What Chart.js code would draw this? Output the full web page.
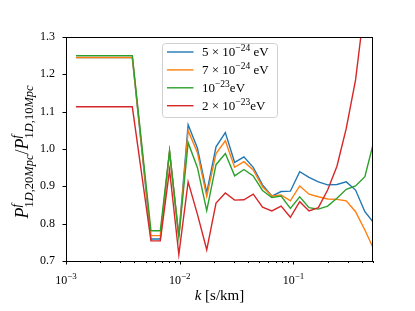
<!DOCTYPE html>
<html>
<head>
<meta charset="utf-8">
<script src="https://cdn.jsdelivr.net/npm/chart.js@4"></script>
<style>
  body { margin: 0; background: #fff; }
  canvas { display: block; }
</style>
</head>
<body>
<canvas id="ratio-chart" width="415" height="311"></canvas>
<script>
// k grid [s/km]
var kValues = [0.001225, 0.003828, 0.005585, 0.006745, 0.008135, 0.009817, 0.01185, 0.01431,
  0.01727, 0.02084, 0.02516, 0.03038, 0.03666, 0.04425, 0.05342, 0.06449, 0.07785, 0.0939,
  0.1134, 0.1370, 0.1654, 0.1996, 0.2410, 0.2910, 0.3513, 0.4242, 0.512];

// ratio P_1D(20Mpc) / P_1D(10Mpc) for each mass
var ratio5e24 = [1.245, 1.245, 0.759, 0.759, 0.993, 0.768, 1.065, 1.002, 0.883, 1.006, 1.044, 0.964,
  0.979, 0.951, 0.904, 0.874, 0.886, 0.887, 0.939, 0.924, 0.912, 0.904, 0.905, 0.912, 0.890, 0.832, 0.801];
var ratio7e24 = [1.245, 1.245, 0.768, 0.768, 0.993, 0.765, 1.049, 0.990, 0.873, 0.988, 1.022, 0.951,
  0.966, 0.944, 0.899, 0.874, 0.877, 0.861, 0.901, 0.879, 0.872, 0.866, 0.865, 0.861, 0.832, 0.783, 0.729];
var ratio1e23 = [1.250, 1.250, 0.781, 0.781, 0.995, 0.763, 1.017, 0.950, 0.835, 0.958, 0.988, 0.928,
  0.945, 0.928, 0.889, 0.870, 0.874, 0.841, 0.872, 0.843, 0.839, 0.847, 0.868, 0.892, 0.901, 0.926, 1.024];
var ratio2e23 = [1.113, 1.113, 0.754, 0.754, 0.944, 0.717, 0.912, 0.825, 0.730, 0.855, 0.882, 0.863,
  0.864, 0.879, 0.844, 0.834, 0.847, 0.817, 0.859, 0.834, 0.843, 0.890, 0.954, 1.055, 1.185, 1.390, 1.650];

var yTicks = [0.7, 0.8, 0.9, 1.0, 1.1, 1.2, 1.3];
var xMajorTicks = [0.001, 0.01, 0.1];

var colors = ['#1f77b4', '#ff7f0e', '#2ca02c', '#d62728'];
var FONT = '"Liberation Serif", "DejaVu Serif", serif';

// legend labels, pieces drawn as [base, superscript, tail]
var legendLabels = [
  ['5 × 10', '−24', ' eV'],
  ['7 × 10', '−24', ' eV'],
  ['10', '−23', 'eV'],
  ['2 × 10', '−23', 'eV']
];

function pts(ys) {
  return kValues.map(function (k, i) { return { x: k, y: ys[i] }; });
}

// draw a row of text pieces: {t, s (size), i (italic), dy, na (no advance)}
function rich(ctx, segs, x, y, align) {
  var w = 0;
  segs.forEach(function (s) {
    ctx.font = (s.i ? 'italic ' : '') + s.s + 'px ' + FONT;
    s.w = ctx.measureText(s.t).width;
    if (!s.na) w += s.w;
  });
  var cx = align === 'center' ? x - w / 2 : x;
  segs.forEach(function (s) {
    ctx.font = (s.i ? 'italic ' : '') + s.s + 'px ' + FONT;
    ctx.fillText(s.t, cx, y + (s.dy || 0));
    if (!s.na) cx += s.w;
  });
}

var texPlugin = {
  id: 'tex',
  afterDraw: function (chart) {
    var ctx = chart.ctx, a = chart.chartArea, xs = chart.scales.x, ys = chart.scales.y;
    ctx.save();
    ctx.fillStyle = '#000';
    ctx.strokeStyle = '#000';
    ctx.textBaseline = 'alphabetic';
    ctx.textAlign = 'left';

    // frame
    ctx.lineWidth = 1;
    ctx.strokeRect(a.left + 0.5, a.top + 0.5, a.right - a.left - 1, a.bottom - a.top);

    // x ticks (major + minor)
    ctx.beginPath();
    xs.ticks.forEach(function (t) {
      var px = Math.round(xs.getPixelForValue(t.value)) + 0.5;
      if (px < a.left - 1 || px > a.right + 1) return;
      var major = xMajorTicks.some(function (m) { return Math.abs(m - t.value) < m * 1e-6; });
      ctx.moveTo(px, a.bottom);
      ctx.lineTo(px, a.bottom + (major ? 3.5 : 2));
    });
    // y ticks
    yTicks.forEach(function (v) {
      var py = Math.round(ys.getPixelForValue(v)) + 0.5;
      ctx.moveTo(a.left, py);
      ctx.lineTo(a.left - 3.5, py);
    });
    ctx.stroke();

    // x tick labels 10^n
    xMajorTicks.forEach(function (m) {
      var px = xs.getPixelForValue(m);
      var e = Math.round(Math.log10(m));
      rich(ctx, [{ t: '10', s: 12 }, { t: '−' + Math.abs(e), s: 9, dy: -5 }], px, 284, 'center');
    });

    // x axis title
    rich(ctx, [{ t: 'k', s: 15, i: true }, { t: ' [s/km]', s: 15 }], (a.left + a.right) / 2, 300, 'center');

    // y axis title (rotated)
    ctx.save();
    ctx.translate(28, (a.top + a.bottom) / 2 + 3);
    ctx.rotate(-Math.PI / 2);
    var sub = 4.5, sup = -8, big = 18, sm = 12.5;
    rich(ctx, [
      { t: 'P', s: big, i: true }, { t: 'f', s: sm, i: true, dy: sup, na: true },
      { t: '1', s: sm, dy: sub }, { t: 'D', s: sm, i: true, dy: sub }, { t: ',', s: sm, dy: sub },
      { t: '20', s: sm, dy: sub }, { t: 'Mpc', s: sm, i: true, dy: sub },
      { t: '/', s: big },
      { t: 'P', s: big, i: true }, { t: 'f', s: sm, i: true, dy: sup, na: true },
      { t: '1', s: sm, dy: sub }, { t: 'D', s: sm, i: true, dy: sub }, { t: ',', s: sm, dy: sub },
      { t: '10', s: sm, dy: sub }, { t: 'Mpc', s: sm, i: true, dy: sub }
    ], 0, 0, 'center');
    ctx.restore();

    // legend
    var lx = 162.5, ly = 43.5, lw = 115, lh = 74;
    ctx.beginPath();
    ctx.roundRect(lx, ly, lw, lh, 3);
    ctx.fillStyle = 'rgba(255,255,255,0.8)';
    ctx.fill();
    ctx.strokeStyle = '#d0d0d0';
    ctx.lineWidth = 1;
    ctx.stroke();
    legendLabels.forEach(function (lab, i) {
      var ry = 52 + i * 17.9;
      ctx.strokeStyle = colors[i];
      ctx.lineWidth = 1.4;
      ctx.beginPath();
      ctx.moveTo(167, ry);
      ctx.lineTo(193.5, ry);
      ctx.stroke();
      ctx.fillStyle = '#000';
      rich(ctx, [{ t: lab[0], s: 13 }, { t: lab[1], s: 9.5, dy: -5 }, { t: lab[2], s: 13 }], 202, ry + 4, 'left');
    });
    ctx.restore();
  }
};

var names = ['5e-24 eV', '7e-24 eV', '1e-23 eV', '2e-23 eV'];
var series = [ratio5e24, ratio7e24, ratio1e23, ratio2e23];

new Chart(document.getElementById('ratio-chart').getContext('2d'), {
  type: 'line',
  data: {
    datasets: series.map(function (s, i) {
      return {
        label: names[i],
        data: pts(s),
        borderColor: colors[i],
        borderWidth: 1.4,
        pointRadius: 0,
        tension: 0,
        fill: false,
        order: 4 - i
      };
    })
  },
  options: {
    responsive: false,
    animation: false,
    devicePixelRatio: 1,
    layout: { padding: { left: 0, top: 37, right: 42, bottom: 0 } },
    plugins: { legend: { display: false }, tooltip: { enabled: false } },
    scales: {
      x: {
        type: 'logarithmic',
        min: 0.001,
        max: 0.5,
        grid: { display: false, drawTicks: false },
        border: { display: false },
        ticks: { display: false },
        afterBuildTicks: function (s) {
          var t = [];
          [0.001, 0.01, 0.1].forEach(function (d) {
            for (var m = 1; m <= 9; m++) {
              var v = m * d;
              if (v <= 0.5 + 1e-9) t.push({ value: v });
            }
          });
          s.ticks = t;
        },
        afterFit: function (s) { s.height = 50; }
      },
      y: {
        min: 0.7,
        max: 1.3,
        grid: { display: false, drawTicks: false },
        border: { display: false },
        afterBuildTicks: function (s) {
          s.ticks = yTicks.map(function (v) { return { value: v }; });
        },
        ticks: {
          padding: 11,
          color: '#000',
          font: { family: FONT, size: 12 },
          callback: function (v) { return Number(v).toFixed(1); }
        },
        afterFit: function (s) { s.width = 66; }
      }
    }
  },
  plugins: [texPlugin]
});
</script>
</body>
</html>
